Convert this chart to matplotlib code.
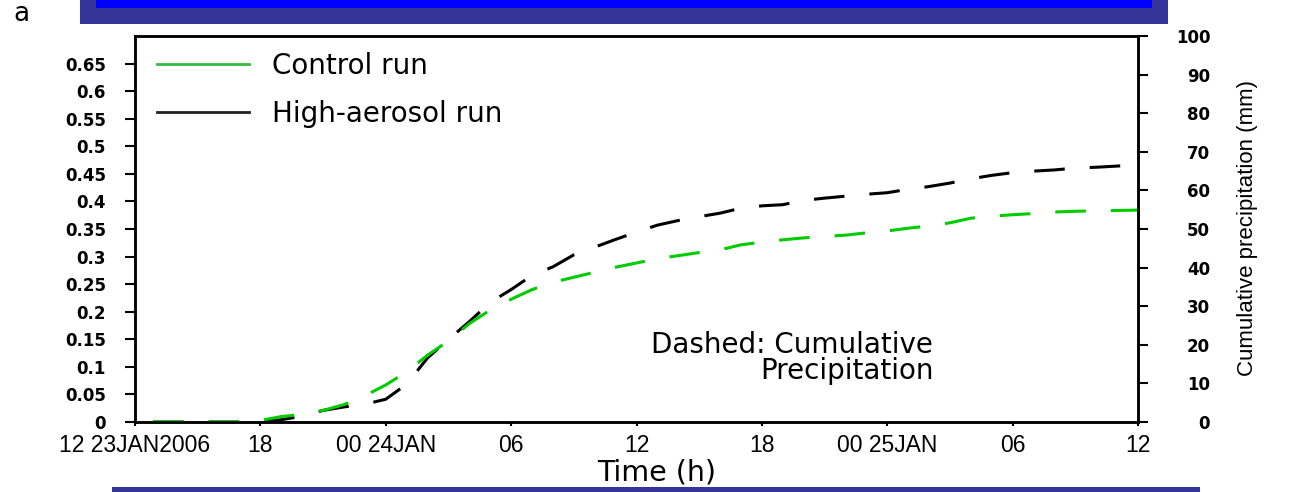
import numpy as np
import matplotlib
matplotlib.use("Agg")
import matplotlib.pyplot as plt
from matplotlib import font_manager
from matplotlib.patches import Rectangle
from matplotlib.lines import Line2D

plt.rcParams['lines.scale_dashes'] = False

# hours since 12Z 23 Jan 2006
hours = list(range(0, 49))

# cumulative precipitation (mm)
control = [0, 0, 0, 0, 0, 0, 0.4, 1.4, 2.0, 3.0, 4.5, 6.8, 9.6, 13.0, 17.3, 21.0,
           25.5, 29.0, 31.8, 34.3, 36.2, 37.5, 38.8, 40.1, 41.2, 42.3, 43.1, 43.9,
           44.6, 45.9, 46.6, 47.2, 47.7, 48.1, 48.4, 49.0, 49.5, 50.2, 50.8, 51.6,
           52.8, 53.3, 53.7, 54.0, 54.4, 54.6, 54.7, 54.8, 54.9]
aerosol = [0, 0, 0, 0, 0, 0, 0, 0.6, 1.5, 3.0, 3.9, 4.6, 5.9, 9.8, 16.6, 21.4,
           26.0, 31.0, 34.3, 38.0, 40.2, 43.3, 45.3, 47.3, 49.2, 51.0, 52.2, 53.2,
           54.1, 55.4, 56.0, 56.3, 57.4, 58.0, 58.5, 59.0, 59.4, 60.3, 61.0, 61.9,
           63.0, 63.9, 64.6, 65.0, 65.3, 65.8, 66.0, 66.3, 66.6]

xtick_pos = [0, 6, 12, 18, 24, 30, 36, 42, 48]
xtick_labels = ["12 23JAN2006", "18", "00 24JAN", "06", "12", "18", "00 25JAN", "06", "12"]
left_ticks = [0, 0.05, 0.1, 0.15, 0.2, 0.25, 0.3, 0.35, 0.4, 0.45, 0.5, 0.55, 0.6, 0.65]
right_ticks = list(range(0, 101, 10))

names = {f.name for f in font_manager.fontManager.ttflist}
narrow = 'Liberation Sans Narrow' if 'Liberation Sans Narrow' in names else 'Liberation Sans'
ylab_size = 19 if narrow == 'Liberation Sans Narrow' else 16

W, H = 1290, 492
fig = plt.figure(figsize=(W / 100, H / 100), dpi=100)
ax = fig.add_axes([135 / W, 1 - 422 / H, 1003 / W, 386 / H])
ax2 = ax.twinx()

green = '#00cc00'
ax2.plot(hours, aerosol, color='black', lw=2.2, linestyle=(27, (22, 18)))
ax2.plot(hours, control, color=green, lw=2.2, linestyle=(27, (22, 18)))

ax.set_xlim(0, 48)
ax.set_ylim(0, 0.7)
ax2.set_ylim(0, 100)

ax.set_xticks(xtick_pos)
ax.set_xticklabels(xtick_labels, fontsize=16.5, family='Liberation Sans')
ax.set_yticks(left_ticks)
ax.set_yticklabels(['%g' % v for v in left_ticks], fontsize=12, fontweight='bold',
                   family='DejaVu Sans')
ax2.set_yticks(right_ticks)
ax2.set_yticklabels([str(v) for v in right_ticks], fontsize=12, fontweight='bold',
                    family='DejaVu Sans', ha='right')

ax.tick_params(axis='x', direction='out', length=3, width=1.5, pad=6)
ax.tick_params(axis='y', direction='out', length=7, width=1.5, pad=14)
ax2.tick_params(axis='y', direction='out', length=7, width=1.5, pad=45)
for a in (ax, ax2):
    for s in a.spines.values():
        s.set_linewidth(1.8)

ax2.set_ylabel("Cumulative precipitation (mm)", fontsize=ylab_size, family=narrow)
ax2.yaxis.set_label_coords(1.099, 0.503)

handles = [Line2D([], [], color='#33bb44', lw=2),
           Line2D([], [], color='#222222', lw=2)]
ax2.legend(handles, ["Control run", "High-aerosol run"], loc='upper left',
           bbox_to_anchor=(0.022, 0.958), frameon=False, borderpad=0, borderaxespad=0,
           handlelength=3.3, handletextpad=0.85, labelspacing=0.72,
           prop={'family': 'DejaVu Sans', 'size': 20})

ax2.text(0.655, 0.235, "Dashed: Cumulative", transform=ax2.transAxes, ha='center',
         va='top', fontsize=20, family='DejaVu Sans')
ax2.text(0.71, 0.168, "Precipitation", transform=ax2.transAxes, ha='center',
         va='top', fontsize=20, family='DejaVu Sans')

fig.text(657 / W, 1 - 458 / H, "Time (h)", ha='center', va='top', fontsize=20.5,
         family='DejaVu Sans', zorder=1)
fig.text(13 / W, 1 - 21 / H, "a", ha='left', va='baseline', fontsize=19,
         family='DejaVu Sans')

# slide banner and bottom bar
fig.patches.append(Rectangle((80 / W, 1 - 24 / H), 1088 / W, 24 / H, transform=fig.transFigure,
                             facecolor='#333399', edgecolor='none', zorder=5))
fig.patches.append(Rectangle((96 / W, 1 - 7.5 / H), 1056 / W, 7.5 / H, transform=fig.transFigure,
                             facecolor='#0000ff', edgecolor='none', zorder=6))
fig.patches.append(Rectangle((112 / W, 0), 1088 / W, 5 / H, transform=fig.transFigure,
                             facecolor='#333399', edgecolor='none', zorder=10))

fig.savefig('out.png', dpi=100)
